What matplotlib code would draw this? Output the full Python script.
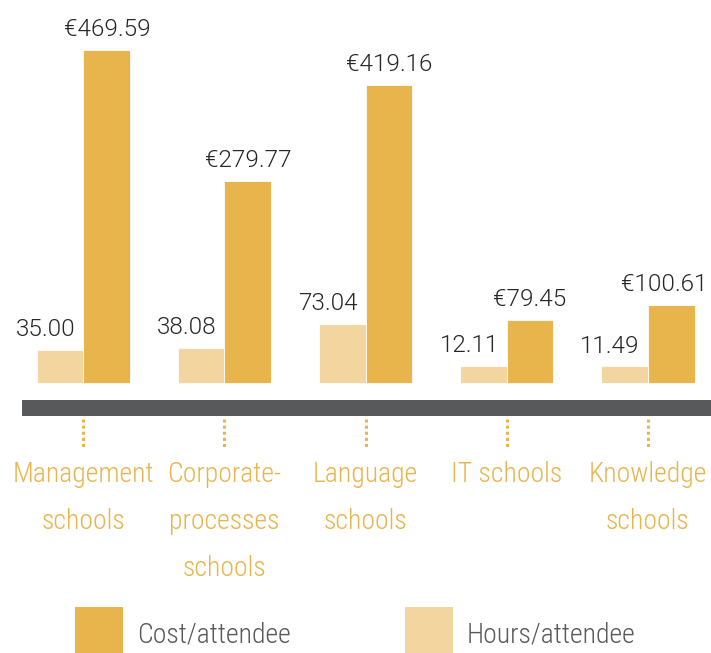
import matplotlib

matplotlib.use("Agg")
import matplotlib.pyplot as plt
import numpy as np
from matplotlib.patches import Rectangle
from matplotlib.lines import Line2D

categories = ["Management\nschools", "Corporate-\nprocesses\nschools", "Language\nschools",
              "IT schools", "Knowledge\nschools"]
hours = [35.00, 38.08, 73.04, 12.11, 11.49]
cost = [469.59, 279.77, 419.16, 79.45, 100.61]

COST_C = "#e7b54c"
HOURS_C = "#f3d5a0"
BAND_C = "#58595b"
LABEL_C = "#262626"
NARROW = ["Roboto Condensed", "DejaVu Sans"]
VALUE_FONT = ["Roboto", "DejaVu Sans"]

W, H = 711, 653
fig = plt.figure(figsize=(W / 100, H / 100), dpi=100)
ax = fig.add_axes([0, 0, 1, 1])
ax.set_xlim(-0.592, 4.45)
ax.set_ylim(-403.7, 542.6)
ax.axis("off")

x = np.arange(len(categories))
bw = 0.333
base = -12  # bars sit a little below the zero line
ax.bar(x - bw / 2, np.array(hours) - base, bw, bottom=base, color=HOURS_C,
       edgecolor="white", linewidth=0.6)
ax.bar(x + bw / 2, np.array(cost) - base, bw, bottom=base, color=COST_C,
       edgecolor="white", linewidth=0.6)

value_texts = []
for xi, h, c in zip(x, hours, cost):
    ax.annotate(f"{h:.2f}", (xi, h), xytext=(-5.5, 10), textcoords="offset points",
                ha="right", va="baseline", fontsize=17.5, color=LABEL_C,
                family=VALUE_FONT, fontweight=300)
    value_texts.append(
        ax.annotate(f"€{c:.2f}", (xi + bw / 2, c), xytext=(0, 10), textcoords="offset points",
                    ha="center", va="baseline", fontsize=17.5, color=LABEL_C,
                    family=VALUE_FONT, fontweight=300))

# keep the cost labels inside the right edge
fig.canvas.draw()
renderer = fig.canvas.get_renderer()
for t in value_texts:
    over = t.get_window_extent(renderer).x1 - (W - 4)
    if over > 0:
        dx, dy = t.xyann
        t.xyann = (dx - over * 72 / 100, dy)

# dark band under the bars
fig.add_artist(Rectangle((22 / W, 1 - 415.7 / H), 1 - 22 / W, 15.7 / H,
                         transform=fig.transFigure, color=BAND_C, lw=0))

# dotted ticks and category names, one text per line
for xi, name in zip(x, categories):
    px = ax.transData.transform((xi, 0))[0] / W
    fig.add_artist(Line2D([px, px], [1 - 419 / H, 1 - 448 / H], transform=fig.transFigure,
                          color=COST_C, lw=2.2, linestyle=(0, (1, 1)),
                          dash_capstyle="butt"))
    for k, line in enumerate(name.split("\n")):
        fig.text(px, 1 - (481.5 + 47.5 * k) / H, line, ha="center", va="baseline",
                 fontsize=20, color=COST_C, family=NARROW, fontweight="light")

# legend
for x0, col, lab in [(75, COST_C, "Cost/attendee"), (405, HOURS_C, "Hours/attendee")]:
    fig.add_artist(Rectangle((x0 / W, 0), 48 / W, 46 / H, transform=fig.transFigure,
                             color=col, lw=0))
    fig.text((x0 + 62) / W, 1 - 643 / H, lab, ha="left", va="baseline", fontsize=20,
             color=BAND_C, family=NARROW, fontweight="light")

fig.savefig("out.png", dpi=100)
